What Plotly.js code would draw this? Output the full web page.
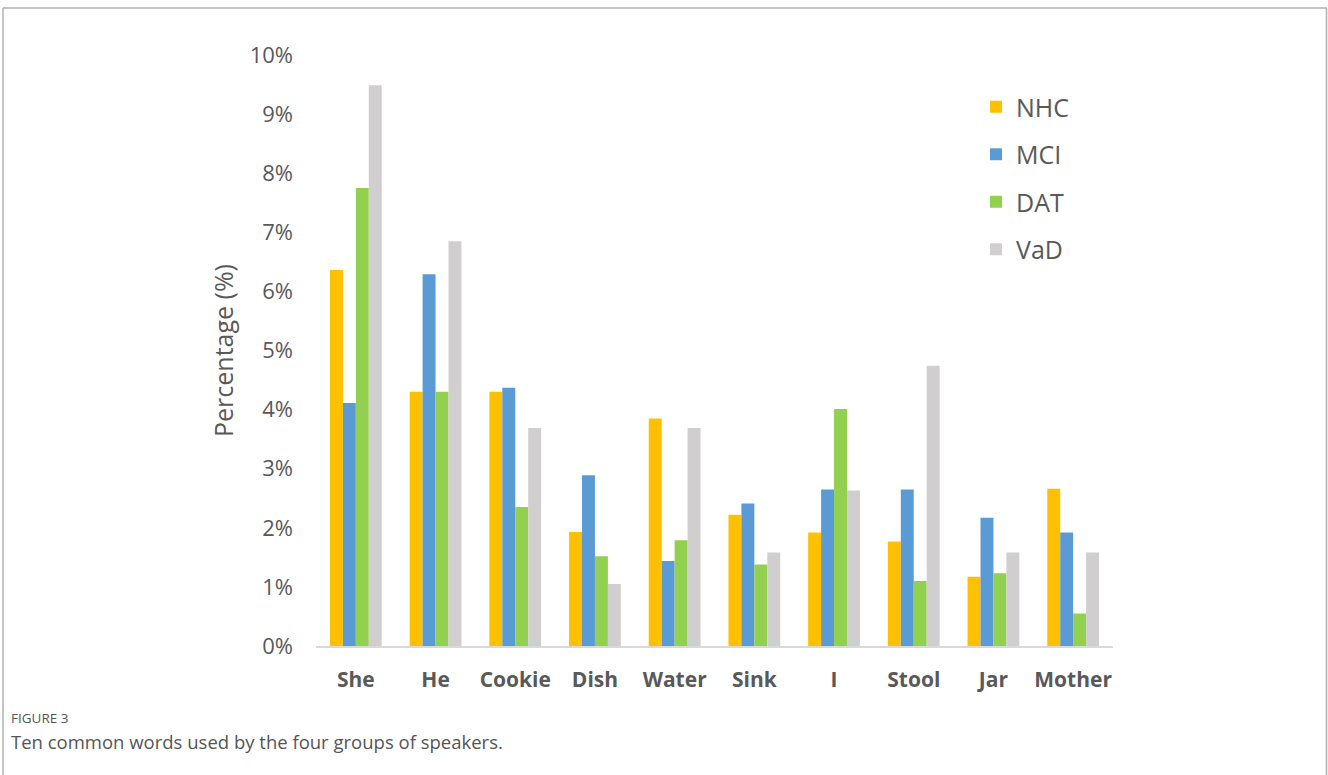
<!DOCTYPE html>
<html>
<head>
<meta charset="utf-8">
<script src="https://cdn.plot.ly/plotly-3.0.1.min.js"></script>
<style>
  html, body { margin: 0; padding: 0; background: #ffffff; }
  #chart { width: 1328px; height: 775px; }
</style>
</head>
<body>
<div id="chart"></div>
<script>
const words = ["She", "He", "Cookie", "Dish", "Water", "Sink", "I", "Stool", "Jar", "Mother"];
const groupNames = ["NHC", "MCI", "DAT", "VaD"];
const nhc = [6.36, 4.30, 4.30, 1.93, 3.85, 2.22, 1.92, 1.77, 1.17, 2.66];
const mci = [4.11, 6.29, 4.37, 2.89, 1.44, 2.41, 2.65, 2.65, 2.17, 1.92];
const dat = [7.75, 4.30, 2.35, 1.52, 1.79, 1.38, 4.01, 1.10, 1.23, 0.55];
const vad = [9.49, 6.85, 3.69, 1.05, 3.69, 1.58, 2.63, 4.74, 1.58, 1.58];
const yTicks = [0, 1, 2, 3, 4, 5, 6, 7, 8, 9, 10];
const yTickText = ["0%", "1%", "2%", "3%", "4%", "5%", "6%", "7%", "8%", "9%", "10%"];
const figureLabel = "FIGURE 3";
const captionText = "Ten common words used by the four groups of speakers.";

const colors = ["#FFC000", "#5B9BD5", "#92D050", "#D0CECE"];
const series = [nhc, mci, dat, vad];

const W = 1328, H = 775;
const L = 316, R = 1113, T = 55, B = 646;
const px = x => (x - L) / (R - L);
const py = y => (B - y) / (B - T);

const traces = series.map((vals, i) => ({
  type: "bar",
  name: groupNames[i],
  x: words,
  y: vals,
  marker: { color: colors[i], line: { width: 0 } },
  legendgroup: "g" + i,
  hoverinfo: "x+y+name"
}));

const layout = {
  width: W, height: H,
  margin: { l: L, r: W - R, t: T, b: H - B, pad: 0 },
  paper_bgcolor: "#ffffff",
  plot_bgcolor: "#ffffff",
  barmode: "group",
  bargap: 0.35,
  bargroupgap: 0,
  font: { family: "'Open Sans', sans-serif", color: "#595959" },
  xaxis: {
    type: "category",
    showline: true, linecolor: "#d9d9d9", linewidth: 1.5,
    showgrid: false, zeroline: false,
    ticks: "",
    tickfont: { size: 21, color: "#595959", family: "'Open Sans', sans-serif", weight: "bold" },
    ticklabelstandoff: 14
  },
  yaxis: {
    range: [0, 10],
    tickvals: yTicks, ticktext: yTickText,
    showgrid: false, zeroline: false, showline: false,
    ticks: "",
    tickfont: { size: 22, color: "#595959", family: "'Open Sans', sans-serif" },
    ticklabelstandoff: 22,
    title: { text: "Percentage (%)", font: { size: 25, color: "#595959", family: "'Open Sans', sans-serif" }, standoff: 8 }
  },
  legend: {
    x: px(976), y: py(84), xanchor: "left", yanchor: "top",
    font: { size: 25, color: "#595959", family: "'Open Sans', sans-serif" },
    traceorder: "grouped",
    tracegroupgap: 12,
    bgcolor: "rgba(0,0,0,0)",
    itemwidth: 30
  },
  shapes: [
    { type: "line", xref: "paper", yref: "paper", x0: px(3), x1: px(1327), y0: py(8), y1: py(8), line: { color: "#b0b0b0", width: 1.5 } },
    { type: "line", xref: "paper", yref: "paper", x0: px(3), x1: px(3), y0: py(8), y1: py(775), line: { color: "#b0b0b0", width: 1.5 } },
    { type: "line", xref: "paper", yref: "paper", x0: px(1326.5), x1: px(1326.5), y0: py(8), y1: py(775), line: { color: "#b0b0b0", width: 1.5 } }
  ],
  annotations: [
    { xref: "paper", yref: "paper", x: px(9), y: py(718), xanchor: "left", yanchor: "middle", showarrow: false,
      text: figureLabel, font: { size: 13.5, color: "#555555", family: "'Open Sans', sans-serif" } },
    { xref: "paper", yref: "paper", x: px(9), y: py(741), xanchor: "left", yanchor: "middle", showarrow: false,
      text: captionText, font: { size: 18.5, color: "#555555", family: "'Open Sans', sans-serif" } }
  ]
};

Plotly.newPlot("chart", traces, layout, { displayModeBar: false, staticPlot: true });
</script>
</body>
</html>
